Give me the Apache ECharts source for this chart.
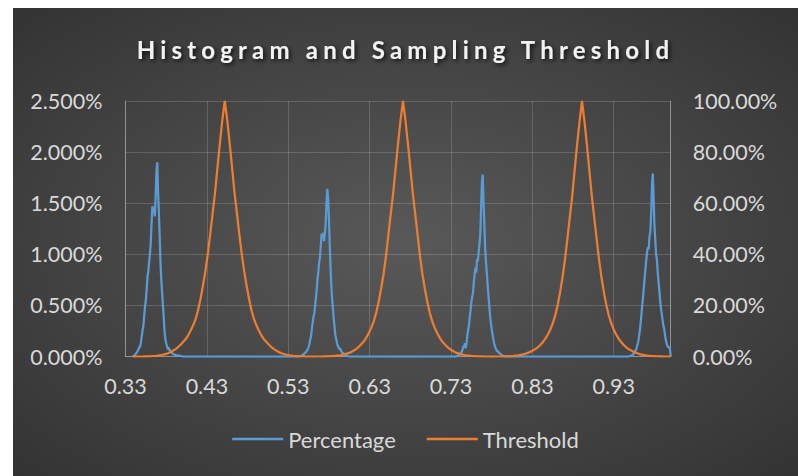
<!DOCTYPE html>
<html>
<head>
<meta charset="utf-8">
<script src="https://cdn.jsdelivr.net/npm/echarts@6/dist/echarts.min.js"></script>
<style>
  html, body { margin: 0; padding: 0; background: #ffffff; }
  #chart { position: absolute; left: 13px; top: 8px; width: 785px; height: 468px; }
</style>
</head>
<body>
<div id="chart"></div>
<script>
// Chart text
const titleText = 'Histogram and Sampling Threshold';
const seriesNames = ['Percentage', 'Threshold'];

// Axis ranges and tick steps
const xRange = [0.33, 1.0];
const xStep = 0.1;
const leftRange = [0, 2.5];      // percent
const leftStep = 0.5;
const rightRange = [0, 100];     // percent
const rightStep = 20;

// Percentage histogram, [x, percent]
const percentageA = [[0.339,0],[0.341,0.01],[0.342,0.02],[0.344,0.04],[0.346,0.07],[0.347,0.09],[0.348,0.1],[0.349,0.14],[0.350,0.2],[0.351,0.26],[0.352,0.3],[0.353,0.4],[0.354,0.49],[0.355,0.55],[0.356,0.65],[0.357,0.78],[0.358,0.83],[0.359,0.92],[0.360,1.0],[0.361,1.11],[0.362,1.3],[0.363,1.47],[0.364,1.42],[0.365,1.46],[0.366,1.37],[0.367,1.55],[0.368,1.8],[0.369,1.9],[0.370,1.62],[0.371,1.42],[0.372,1.18],[0.373,0.92],[0.374,0.75],[0.375,0.62],[0.376,0.5],[0.377,0.38],[0.378,0.24],[0.379,0.17],[0.380,0.13],[0.381,0.1],[0.382,0.07],[0.383,0.09],[0.384,0.06],[0.385,0.065],[0.386,0.04],[0.387,0.05],[0.388,0.025],[0.390,0.02],[0.392,0.01],[0.395,0.01],[0.398,0.005],[0.400,0]];
const percentageB = [[0.544,0],[0.546,0.008],[0.548,0.015],[0.550,0.03],[0.552,0.045],[0.553,0.06],[0.554,0.07],[0.555,0.09],[0.556,0.12],[0.557,0.16],[0.558,0.2],[0.559,0.27],[0.560,0.33],[0.561,0.39],[0.562,0.42],[0.563,0.5],[0.564,0.57],[0.565,0.66],[0.566,0.76],[0.567,0.83],[0.568,0.92],[0.569,0.97],[0.570,1.08],[0.571,1.2],[0.572,1.17],[0.573,1.21],[0.574,1.13],[0.575,1.2],[0.576,1.3],[0.577,1.5],[0.578,1.64],[0.579,1.55],[0.580,1.35],[0.581,1.1],[0.582,0.86],[0.583,0.68],[0.584,0.55],[0.585,0.46],[0.586,0.36],[0.587,0.28],[0.588,0.2],[0.589,0.17],[0.590,0.13],[0.591,0.1],[0.592,0.09],[0.593,0.07],[0.594,0.08],[0.595,0.05],[0.596,0.04],[0.598,0.03],[0.600,0.015],[0.603,0.005],[0.605,0]];
const percentageC = [[0.736,0],[0.738,0.008],[0.740,0.015],[0.742,0.03],[0.743,0.045],[0.744,0.06],[0.745,0.1],[0.746,0.09],[0.747,0.13],[0.748,0.08],[0.749,0.12],[0.750,0.2],[0.751,0.26],[0.752,0.3],[0.753,0.38],[0.754,0.45],[0.755,0.53],[0.756,0.58],[0.757,0.62],[0.758,0.72],[0.759,0.8],[0.760,0.87],[0.761,0.82],[0.762,0.95],[0.763,0.93],[0.764,1.02],[0.765,1.1],[0.766,1.2],[0.767,1.45],[0.768,1.7],[0.769,1.78],[0.770,1.5],[0.771,1.3],[0.772,1.05],[0.773,0.92],[0.774,0.82],[0.775,0.7],[0.776,0.6],[0.777,0.5],[0.778,0.4],[0.779,0.33],[0.780,0.27],[0.781,0.22],[0.782,0.17],[0.783,0.13],[0.784,0.1],[0.785,0.08],[0.786,0.06],[0.788,0.045],[0.790,0.03],[0.792,0.015],[0.794,0.008],[0.796,0]];
const percentageD = [[0.948,0],[0.950,0.005],[0.952,0.01],[0.954,0.02],[0.956,0.045],[0.957,0.06],[0.958,0.08],[0.959,0.11],[0.960,0.14],[0.961,0.19],[0.962,0.25],[0.963,0.32],[0.964,0.41],[0.965,0.5],[0.966,0.58],[0.967,0.68],[0.968,0.77],[0.969,0.86],[0.970,0.95],[0.971,1.02],[0.972,1.07],[0.973,1.05],[0.974,1.18],[0.975,1.22],[0.976,1.4],[0.977,1.68],[0.978,1.79],[0.979,1.55],[0.980,1.28],[0.981,1.15],[0.982,1.0],[0.983,0.95],[0.984,0.83],[0.985,0.74],[0.986,0.65],[0.987,0.55],[0.988,0.47],[0.989,0.42],[0.990,0.36],[0.991,0.3],[0.992,0.27],[0.993,0.21],[0.994,0.16],[0.995,0.13],[0.996,0.1],[0.997,0.095],[0.998,0.085],[0.999,0.08],[1.000,0]];

// Sampling threshold, [x, percent]
const thresholdA = [[0.339,0],[0.342,0],[0.353,0.05],[0.362,0.15],[0.368,0.28],[0.374,0.5],[0.380,1.0],[0.383,1.4],[0.386,1.8],[0.389,2.4],[0.392,3.0],[0.395,3.8],[0.398,4.7],[0.401,5.8],[0.404,6.8],[0.407,8.3],[0.410,10.1],[0.413,12.1],[0.416,14.5],[0.419,17.9],[0.422,22.3],[0.425,27.4],[0.428,33],[0.431,39.8],[0.434,47.5],[0.437,55.8],[0.440,64],[0.443,73.8],[0.446,83.5],[0.449,92.5],[0.452,100],[0.455,92.5],[0.458,83.5],[0.461,73.8],[0.464,64],[0.467,55.8],[0.470,47.5],[0.473,39.8],[0.476,33],[0.479,27.4],[0.482,22.3],[0.485,17.9],[0.488,14.5],[0.491,12.1],[0.494,10.1],[0.497,8.3],[0.500,6.8],[0.503,5.8],[0.506,4.7],[0.509,3.8],[0.512,3.0],[0.515,2.4],[0.518,1.8],[0.521,1.4],[0.524,1.0],[0.530,0.5],[0.536,0.28],[0.542,0.15],[0.551,0.05],[0.560,0]];
const thresholdB = [[0.563,0],[0.572,0.04],[0.581,0.12],[0.587,0.22],[0.593,0.4],[0.599,0.8],[0.602,1.1],[0.605,1.4],[0.608,1.9],[0.611,2.4],[0.614,3.1],[0.617,3.9],[0.620,4.9],[0.623,6.0],[0.626,7.4],[0.629,9.2],[0.632,11.2],[0.635,13.7],[0.638,17],[0.641,21.2],[0.644,26.3],[0.647,32],[0.650,39],[0.653,47.5],[0.656,55.8],[0.659,64],[0.662,73.8],[0.665,83.5],[0.668,92.5],[0.671,100],[0.674,92.5],[0.677,83.5],[0.680,73.8],[0.683,64],[0.686,55.8],[0.689,47.5],[0.692,39],[0.695,32],[0.698,26.3],[0.701,21.2],[0.704,17],[0.707,13.7],[0.710,11.2],[0.713,9.2],[0.716,7.4],[0.719,6.0],[0.722,4.9],[0.725,3.9],[0.728,3.1],[0.731,2.4],[0.734,1.9],[0.737,1.4],[0.740,1.1],[0.743,0.8],[0.749,0.4],[0.755,0.22],[0.761,0.12],[0.770,0.04],[0.779,0]];
const thresholdC = [[0.783,0],[0.792,0.04],[0.801,0.13],[0.807,0.25],[0.813,0.45],[0.819,0.85],[0.822,1.15],[0.825,1.5],[0.828,1.9],[0.831,2.4],[0.834,3.0],[0.837,3.7],[0.840,4.6],[0.843,5.7],[0.846,7.0],[0.849,8.6],[0.852,10.5],[0.855,12.9],[0.858,16],[0.861,20],[0.864,25],[0.867,30.8],[0.870,37.8],[0.873,46],[0.876,54.5],[0.879,63],[0.882,73],[0.885,83],[0.888,92],[0.891,100],[0.894,92],[0.897,83],[0.900,73],[0.903,63],[0.906,54.5],[0.909,46],[0.912,37.8],[0.915,30.8],[0.918,25],[0.921,20],[0.924,16],[0.927,12.9],[0.930,10.5],[0.933,8.6],[0.936,7.0],[0.939,5.7],[0.942,4.6],[0.945,3.7],[0.948,3.0],[0.951,2.4],[0.954,1.9],[0.957,1.5],[0.960,1.15],[0.963,0.85],[0.969,0.45],[0.975,0.25],[0.981,0.13],[0.990,0.04],[1.000,0]];

const percentageData = percentageA.concat(percentageB, percentageC, percentageD);
const thresholdData = thresholdA.concat(thresholdB, thresholdC);

const labelColor = '#d9d9d9';
const labelFont = 'Lato';
const labelSize = 21.5;
const gridLineColor = 'rgba(255,255,255,0.16)';
const axisLineColor = 'rgba(255,255,255,0.32)';

const chart = echarts.init(document.getElementById('chart'), null, { renderer: 'svg' });

chart.setOption({
  animation: false,
  backgroundColor: {
    type: 'radial', x: 0.5, y: 0.5, r: 0.95,
    colorStops: [
      { offset: 0, color: '#595959' },
      { offset: 1, color: '#262626' }
    ]
  },
  title: {
    text: titleText,
    left: 'center',
    top: 24,
    textStyle: {
      color: '#f2f2f2',
      fontFamily: labelFont,
      fontWeight: 'bold',
      fontSize: 24,
      textShadowColor: 'rgba(0,0,0,0.75)',
      textShadowBlur: 4,
      textShadowOffsetX: 2,
      textShadowOffsetY: 2
    }
  },
  legend: {
    data: seriesNames,
    bottom: 21,
    left: 'center',
    icon: 'rect',
    itemWidth: 51,
    itemHeight: 2.5,
    itemGap: 31,
    textStyle: { color: labelColor, fontFamily: labelFont, fontSize: 22 }
  },
  grid: { left: 112.5, right: 127.3, top: 93, bottom: 119.5 },
  xAxis: {
    type: 'value',
    min: xRange[0],
    max: xRange[1],
    interval: xStep,
    axisLine: { show: true, onZero: false, lineStyle: { color: axisLineColor } },
    axisTick: { show: false },
    splitLine: { show: true, lineStyle: { color: gridLineColor, width: 1 } },
    axisLabel: {
      color: labelColor, fontFamily: labelFont, fontSize: labelSize, margin: 18,
      showMaxLabel: false,
      formatter: v => v.toFixed(2)
    }
  },
  yAxis: [
    {
      type: 'value',
      min: leftRange[0], max: leftRange[1], interval: leftStep,
      axisLine: { show: true, lineStyle: { color: axisLineColor } },
      axisTick: { show: false },
      splitLine: { show: true, lineStyle: { color: gridLineColor, width: 1 } },
      axisLabel: {
        color: labelColor, fontFamily: labelFont, fontSize: labelSize, margin: 23,
        formatter: v => v.toFixed(3) + '%'
      }
    },
    {
      type: 'value',
      min: rightRange[0], max: rightRange[1], interval: rightStep,
      position: 'right',
      axisLine: { show: true, lineStyle: { color: axisLineColor } },
      axisTick: { show: false },
      splitLine: { show: false },
      axisLabel: {
        color: labelColor, fontFamily: labelFont, fontSize: labelSize, margin: 22,
        formatter: v => v.toFixed(2) + '%'
      }
    }
  ],
  series: [
    {
      name: seriesNames[0],
      type: 'line',
      yAxisIndex: 0,
      data: percentageData,
      symbol: 'none',
      lineStyle: { color: '#5b9bd5', width: 2.25 },
      itemStyle: { color: '#5b9bd5' },
      z: 3
    },
    {
      name: seriesNames[1],
      type: 'line',
      yAxisIndex: 1,
      data: thresholdData,
      symbol: 'none',
      lineStyle: { color: '#ed7d31', width: 2.25 },
      itemStyle: { color: '#ed7d31' },
      z: 4
    }
  ]
});

// Spread the title letters out
chart.getDom().querySelectorAll('text').forEach(function (t) {
  if (t.textContent === titleText) {
    t.style.letterSpacing = '5.2px';
  }
});
</script>
</body>
</html>
